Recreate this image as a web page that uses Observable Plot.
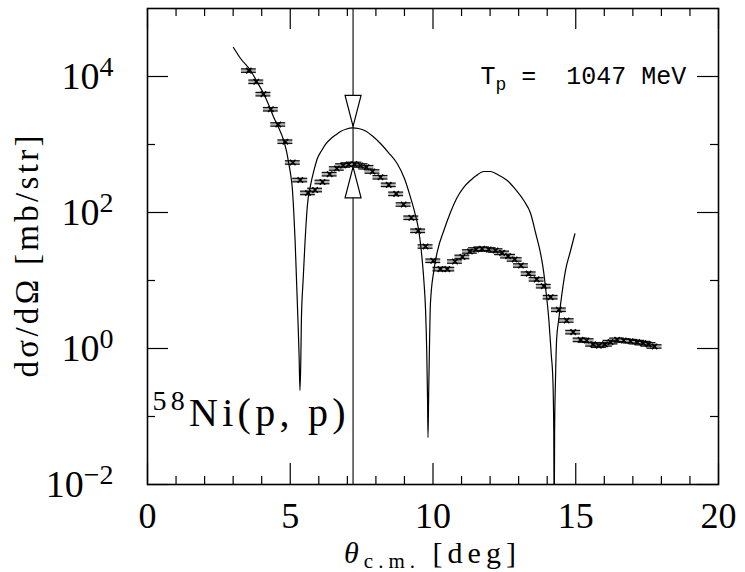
<!DOCTYPE html>
<html><head><meta charset="utf-8">
<script src="https://cdn.jsdelivr.net/npm/d3@7"></script>
<script src="https://cdn.jsdelivr.net/npm/@observablehq/plot@0.6"></script>
<style>html,body{margin:0;padding:0;background:#fff;}</style>
</head><body><div id="chart"></div>
<script>
// ---- measured data (theta c.m. [deg], dsigma/dOmega [mb/str]) ----
const thetaData = [3.55,3.81,4.06,4.32,4.58,4.83,5.09,5.35,5.62,5.87,6.13,6.38,6.63,6.85,7.05,7.25,7.46,7.67,7.88,8.16,8.45,8.71,8.97,9.24,9.48,9.74,10.01,10.26,10.50,10.77,11.03,11.29,11.51,11.72,11.95,12.19,12.42,12.63,12.86,13.08,13.35,13.63,13.88,14.12,14.41,14.68,14.91,15.17,15.38,15.61,15.81,16.02,16.22,16.45,16.68,16.92,17.15,17.36,17.55,17.76];
const sigmaData = [12200,8360,5500,3300,1970,1100,544,300,194,214,281,366,444,491,508,517,491,463,401,330,255,188,131,83.6,53.8,31.6,19.5,14.7,14.7,19.0,22.2,26.7,28.6,29.3,28.6,27.6,25.5,22.8,20.4,16.6,12.6,10.4,8.25,5.68,3.71,2.58,1.74,1.34,1.31,1.15,1.10,1.15,1.24,1.34,1.31,1.28,1.24,1.20,1.15,1.07];
const relErr = 0.06;
const thetaHalfBin = 0.26;

// ---- theory curve ----
const thetaTheory = [3.01,3.26,3.61,3.85,4.07,4.24,4.42,4.59,4.77,4.87,4.95,5.02,5.07,5.12,5.17,5.22,5.27,5.31,5.34,5.37,5.39,5.45,5.52,5.60,5.71,5.83,5.95,6.10,6.24,6.41,6.59,6.76,6.97,7.18,7.39,7.64,7.88,8.16,8.44,8.75,9.00,9.21,9.37,9.50,9.60,9.68,9.74,9.78,9.81,9.825,9.85,9.88,9.91,10.03,10.16,10.38,10.61,10.85,11.07,11.31,11.52,11.78,12.01,12.26,12.60,12.89,13.18,13.42,13.59,13.77,13.87,13.94,14.06,14.14,14.20,14.23,14.245,14.26,14.29,14.33,14.40,14.47,14.64,14.82,14.97];
const sigmaTheory = [26700,18400,12250,8170,5570,3870,2520,1780,1145,789,520,350,233,107,38.7,10,2.58,0.789,0.241,0.667,2.58,10,38.7,127,250,415,622,817,1016,1205,1380,1552,1690,1750,1720,1580,1333,1035,762,520,316,168,96.6,54.3,24.9,10,3.62,0.935,0.172,0.049,0.241,1.31,4.59,14.0,27.6,54.3,100,168,233,296,350,401,401,362,296,218,150,96.6,50.8,24.7,14.0,7.96,2.58,0.836,0.338,0.0622,0.003,0.0622,0.338,1.37,2.58,4.54,14.0,27.6,48.7];

// ---- ticks ----
const xMajorTicks = [0,5,10,15,20];
const xMinorTicks = [1,2,3,4,6,7,8,9,11,12,13,14,16,17,18,19];
const yMajorTicks = [1e-2,1e0,1e2,1e4];
const yMinorTicks = [1e-1,1e1,1e3];

// ---- annotation ----
const arrowTheta = [7.2];
const arrowDownTip = [1850];
const arrowUpTip = [470];
const energyLabel = ["T_{p} =  1047 MeV"];
const reactionLabel = ["^{58}Ni(p, p)"];
const xLabel = ["θ_{c.m.} [deg]"];
const yLabel = ["dσ/dΩ [mb/str]"];

const dataPts = thetaData.map((x, i) => ({x, y: sigmaData[i]}));
const theoryPts = thetaTheory.map((x, i) => ({x, y: sigmaTheory[i]}));
const arrowDown = arrowTheta.map((x, i) => ({x, y: arrowDownTip[i]}));
const arrowUp = arrowTheta.map((x, i) => ({x, y: arrowUpTip[i]}));

const mL = 147, mR = 27, mT = 8, mB = 88, W = 745, H = 572;
const fw = W - mL - mR, fh = H - mT - mB;
const majorLen = 21, minorLen = 8;

const triDown = {draw(ctx) { ctx.moveTo(0, 0); ctx.lineTo(-8, -31); ctx.lineTo(8, -31); ctx.closePath(); }};
const triUp = {draw(ctx) { ctx.moveTo(0, 0); ctx.lineTo(-8, 31); ctx.lineTo(8, 31); ctx.closePath(); }};

const chart = Plot.plot({
  width: W, height: H,
  marginLeft: mL, marginRight: mR, marginTop: mT, marginBottom: mB,
  x: {domain: [0, 20]},
  y: {type: "log", domain: [1e-2, 1e5]},
  style: {fontFamily: "Liberation Serif", background: "white", color: "black"},
  marks: [
    Plot.ruleX(arrowTheta, {x: d => d, stroke: "black", strokeWidth: 1.1}),
    Plot.ruleY(dataPts, {y: "y", x1: d => d.x - thetaHalfBin, x2: d => d.x + thetaHalfBin, stroke: "#b0b0b0", strokeWidth: 5}),
    Plot.ruleY(dataPts, {y: d => d.y * (1 + relErr), x1: d => d.x - thetaHalfBin, x2: d => d.x + thetaHalfBin, stroke: "#111", strokeWidth: 1.1}),
    Plot.ruleY(dataPts, {y: d => d.y / (1 + relErr), x1: d => d.x - thetaHalfBin, x2: d => d.x + thetaHalfBin, stroke: "#111", strokeWidth: 1.1}),
    Plot.dot(dataPts, {x: "x", y: "y", symbol: "times", r: 2.6, stroke: "black", strokeWidth: 1.6}),
    Plot.line(theoryPts, {x: "x", y: "y", curve: "monotone-x", stroke: "black", strokeWidth: 1.2, clip: true}),
    Plot.dot(arrowDown, {x: "x", y: "y", symbol: triDown, fill: "white", stroke: "black", strokeWidth: 1.2}),
    Plot.dot(arrowUp, {x: "x", y: "y", symbol: triUp, fill: "white", stroke: "black", strokeWidth: 1.2}),
    Plot.frame({stroke: "black", strokeWidth: 1.6}),
    Plot.ruleX(xMajorTicks, {x: d => d, insetTop: fh - majorLen, stroke: "black", strokeWidth: 1.2}),
    Plot.ruleX(xMajorTicks, {x: d => d, insetBottom: fh - majorLen, stroke: "black", strokeWidth: 1.2}),
    Plot.ruleX(xMinorTicks, {x: d => d, insetTop: fh - minorLen, stroke: "black", strokeWidth: 1.2}),
    Plot.ruleX(xMinorTicks, {x: d => d, insetBottom: fh - minorLen, stroke: "black", strokeWidth: 1.2}),
    Plot.ruleY(yMajorTicks, {y: d => d, insetRight: fw - majorLen, stroke: "black", strokeWidth: 1.2}),
    Plot.ruleY(yMajorTicks, {y: d => d, insetLeft: fw - majorLen, stroke: "black", strokeWidth: 1.2}),
    Plot.ruleY(yMinorTicks, {y: d => d, insetRight: fw - minorLen, stroke: "black", strokeWidth: 1.2}),
    Plot.ruleY(yMinorTicks, {y: d => d, insetLeft: fw - minorLen, stroke: "black", strokeWidth: 1.2}),
    Plot.axisX({anchor: "bottom", ticks: xMajorTicks, tickSize: 0, tickPadding: 18, fontSize: 36, label: null}),
    Plot.axisY({anchor: "left", ticks: yMajorTicks, tickFormat: d => "10^{" + Math.round(Math.log10(d)) + "}", tickSize: 0, tickPadding: 34, fontSize: 38, label: null}),
    Plot.text(yLabel, {text: d => d, frameAnchor: "left", dx: -120, dy: 131, rotate: -90, textAnchor: "start", fontSize: 33}),
    Plot.text(xLabel, {text: d => d, frameAnchor: "bottom", dx: -89, dy: 78, textAnchor: "start", lineAnchor: "bottom", fontSize: 30}),
    Plot.text(energyLabel, {text: d => d, frameAnchor: "top-right", dx: -238, dy: 75, textAnchor: "start", lineAnchor: "bottom", fontSize: 25, fontFamily: "Liberation Mono"}),
    Plot.text(reactionLabel, {text: d => d, frameAnchor: "bottom-left", dx: 5, dy: -59, textAnchor: "start", lineAnchor: "bottom", fontSize: 40})
  ]
});
document.getElementById("chart").appendChild(chart);

// rich text: ^{..} superscript, _{..} subscript, italic theta
function richEl(el, o, len, adjust) {
  const t = d3.select(el);
  const s = el.textContent;
  t.text(null);
  const re = /([\^_])\{([^}]*)\}|([^\^_]+)/g;
  let m, cur = 0;
  while ((m = re.exec(s))) {
    if (m[3] !== undefined) {
      for (const p of m[3].split(/(θ)/)) {
        if (!p) continue;
        const ts = t.append("tspan").text(p);
        if (cur) { ts.attr("dy", -cur); cur = 0; }
        if (p === "θ") ts.attr("font-style", "italic");
      }
    } else {
      const sup = m[1] === "^";
      const target = sup ? -o.supShift : o.subShift;
      t.append("tspan").text(m[2].replace(/-/g, "\u2212"))
        .attr("font-size", sup ? o.supSize : o.subSize)
        .attr("dy", target - cur);
      cur = target;
    }
  }
  if (len) t.attr("textLength", len).attr("lengthAdjust", adjust || "spacing");
}
const texts = Array.from(chart.querySelectorAll("text"));
for (const el of texts) {
  const s = el.textContent;
  if (s === energyLabel[0]) { el.style.whiteSpace = "pre"; richEl(el, {subSize: 18, subShift: 6}); }
  else if (s === reactionLabel[0]) richEl(el, {supSize: 28, supShift: 16}, 193, "spacing");
  else if (s === xLabel[0]) richEl(el, {subSize: 21, subShift: 5}, 172, "spacing");
  else if (s === yLabel[0]) richEl(el, {}, 242, "spacing");
  else if (s.startsWith("10^{")) richEl(el, {supSize: 28, supShift: 13});
}
</script>
</body></html>
